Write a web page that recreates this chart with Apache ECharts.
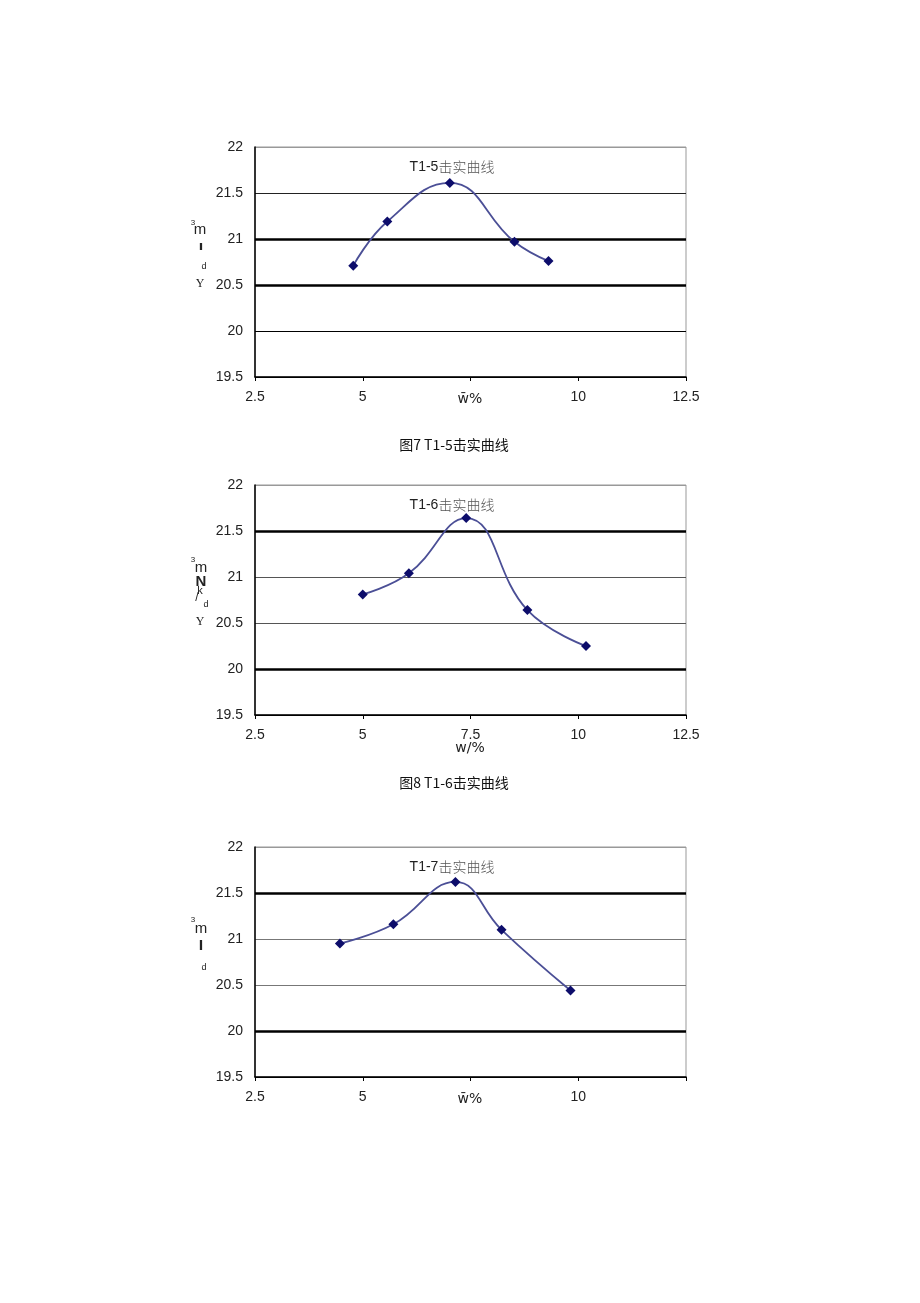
<!DOCTYPE html>
<html>
<head>
<meta charset="utf-8">
<script src="https://cdn.jsdelivr.net/npm/echarts@6/dist/echarts.min.js"></script>
<style>
html,body{margin:0;padding:0;background:#fff;}
#c{width:920px;height:1303px;}
</style>
</head>
<body>
<div id="c"></div>
<script>
// ---- data ----
var x1 = [4.78, 5.57, 7.02, 8.52, 9.31];
var y1 = [20.71, 21.19, 21.61, 20.97, 20.76];
var x2 = [5.0, 6.07, 7.4, 8.82, 10.18];
var y2 = [20.81, 21.04, 21.64, 20.64, 20.25];
var x3 = [4.47, 5.71, 7.15, 8.22, 9.82];
var y3 = [20.95, 21.16, 21.62, 21.10, 20.44];

var chartTitles = ['T1-5', 'T1-6', 'T1-7'];
var titleSuffix = '击实曲线';
var captions = ['图7 T1-5击实曲线', '图8 T1-6击实曲线'];
var xTickLabels = [
  ['2.5', '5', '', '10', '12.5'],
  ['2.5', '5', '7.5', '10', '12.5'],
  ['2.5', '5', '', '10', '']
];
var xTickValues = [2.5, 5, 7.5, 10, 12.5];
var xNames = ['w\u0304%', 'w/%', 'w\u0304%'];
var thickLines = [[21, 20.5], [21.5, 20], [21.5, 20]];

var chart = echarts.init(document.getElementById('c'));

var gridTops = [147, 485, 847];
var gridH = 230;
var nameY = [399, 748, 1099];
var thinColors = [
  ['#000', '#000', '#000', '#111', '#222', '#999'],
  ['#000', '#000', '#555', '#555', '#000', '#999'],
  ['#000', '#000', '#777', '#777', '#000', '#999']
];

function pair(xs, ys) { return xs.map(function (v, i) { return [v, ys[i]]; }); }
var datas = [pair(x1, y1), pair(x2, y2), pair(x3, y3)];

var grids = [], xAxes = [], yAxes = [], series = [];
for (var k = 0; k < 3; k++) {
  grids.push({ left: 255, top: gridTops[k], width: 431, height: gridH, show: true,
    borderColor: '#999', borderWidth: 1, backgroundColor: 'transparent' });
  (function (kk) {
    xAxes.push({
      gridIndex: kk, type: 'value', min: 2.5, max: 12.5, interval: 2.5,
      axisLine: { show: true, lineStyle: { color: '#000', width: 1.5 } },
      axisTick: { show: true, length: 4, lineStyle: { color: '#000' } },
      splitLine: { show: false },
      axisLabel: { margin: 13, fontSize: 14, color: '#222', fontFamily: 'Liberation Sans, Arial, sans-serif',
        formatter: function (v) { var i = xTickValues.indexOf(v); return i >= 0 ? xTickLabels[kk][i] : ''; } }
    });
  })(k);
  yAxes.push({
    gridIndex: k, type: 'value', min: 19.5, max: 22, interval: 0.5,
    axisLine: { show: true, lineStyle: { color: '#000', width: 1.5 } },
    axisTick: { show: false },
    splitLine: { show: true, lineStyle: { color: thinColors[k], width: 1 } },
    axisLabel: { margin: 12, fontSize: 14, color: '#222', fontFamily: 'Liberation Sans, Arial, sans-serif' }
  });
  series.push({
    type: 'line', xAxisIndex: k, yAxisIndex: k, data: datas[k], smooth: 0.45,
    symbol: 'diamond', symbolSize: 10,
    lineStyle: { color: '#4b4f96', width: 1.8 },
    itemStyle: { color: '#0d0d6b' },
    z: 5,
    markLine: {
      silent: true, symbol: 'none', label: { show: false },
      lineStyle: { color: '#000', width: 2.5, type: 'solid' },
      data: thickLines[k].map(function (v) { return { yAxis: v }; })
    }
  });
}

var titleCY = [167, 505, 867];
var graphics = [];
for (var t = 0; t < 3; t++) {
  graphics.push({
    type: 'text', x: 452, y: titleCY[t],
    style: {
      text: '{a|' + chartTitles[t] + '}{b|' + titleSuffix + '}',
      textAlign: 'center', textVerticalAlign: 'middle',
      rich: {
        a: { fontSize: 14, fontFamily: 'Liberation Sans, Arial, sans-serif', fill: '#222' },
        b: { fontSize: 14, fontFamily: 'Noto Sans CJK SC, sans-serif', fill: '#555', fontWeight: 300 }
      }
    }
  });
  graphics.push({ type: 'text', x: 470, y: nameY[t],
    style: { text: xNames[t], textAlign: 'center', textVerticalAlign: 'middle', fontSize: 14,
      fill: '#222', fontFamily: 'DejaVu Sans, Liberation Sans, sans-serif' } });
}
var captionY = [445, 783];
for (var c = 0; c < 2; c++) {
  graphics.push({ type: 'text', x: 454, y: captionY[c],
    style: { text: captions[c], textAlign: 'center', textVerticalAlign: 'middle',
      fontSize: 14, fill: '#111', fontFamily: 'Noto Sans CJK SC, Liberation Sans, sans-serif' } });
}
// stray y-axis unit glyphs
var glyphs = [
  ['3', 193, 223, 8, 'sans-serif'], ['m', 200, 230, 15, 'Liberation Sans'], ['ı', 201, 247, 13, 'DejaVu Sans'],
  ['d', 204, 267, 9, 'sans-serif'], ['Y', 200, 284, 12, 'Liberation Serif'],
  ['3', 193, 560, 8, 'sans-serif'], ['m', 201, 568, 15, 'Liberation Sans'], ['N', 201, 582, 15, 'Liberation Sans'],
  ['k', 200, 591, 11, 'Liberation Sans'], ['/', 197, 598, 12, 'Liberation Sans'], ['d', 206, 605, 9, 'sans-serif'],
  ['Y', 200, 622, 12, 'Liberation Serif'],
  ['3', 193, 920, 8, 'sans-serif'], ['m', 201, 929, 15, 'Liberation Sans'], ['l', 201, 947, 13, 'DejaVu Sans'],
  ['d', 204, 968, 9, 'sans-serif']
];
glyphs.forEach(function (g) {
  graphics.push({ type: 'text', x: g[1], y: g[2],
    style: { text: g[0], textAlign: 'center', textVerticalAlign: 'middle', fontSize: g[3],
      fontFamily: g[4], fill: '#222', fontWeight: (g[0] === 'ı' || g[0] === 'N' || g[0] === 'l') ? 'bold' : 'normal' } });
});

chart.setOption({
  backgroundColor: '#fff',
  animation: false,
  grid: grids, xAxis: xAxes, yAxis: yAxes, series: series,
  graphic: graphics
});
</script>
</body>
</html>
